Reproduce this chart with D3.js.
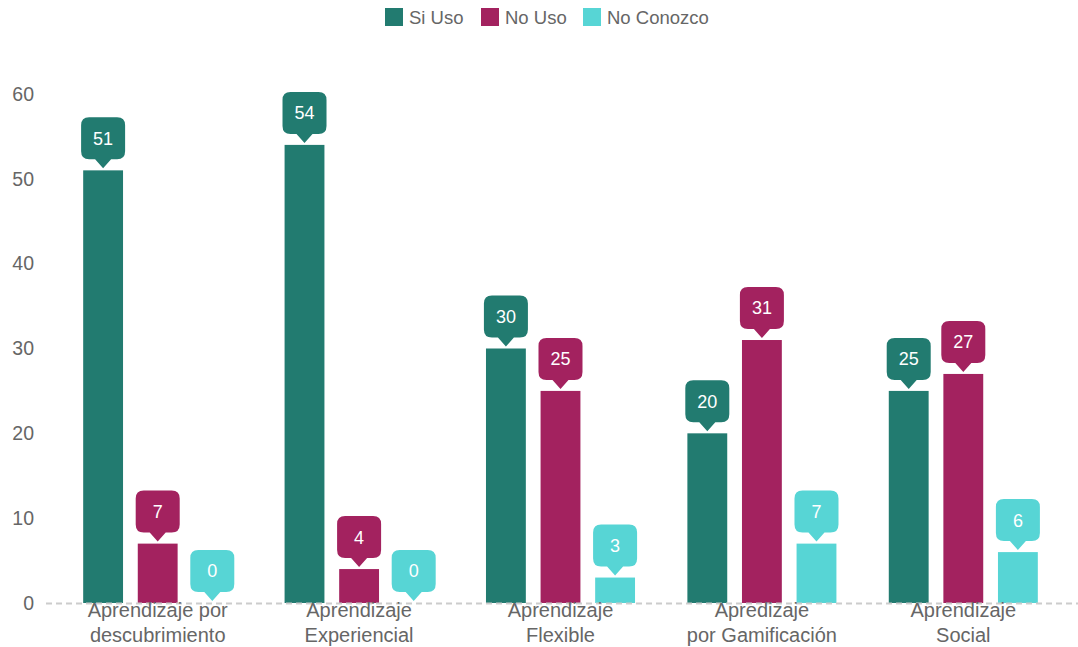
<!DOCTYPE html>
<html>
<head>
<meta charset="utf-8">
<script src="https://cdn.jsdelivr.net/npm/d3@7"></script>
<style>
  html, body { margin: 0; padding: 0; background: #fff; }
  svg { display: block; font-family: "Liberation Sans", Arial, sans-serif; }
</style>
</head>
<body>
<svg id="chart" width="1078" height="647"></svg>
<script>
// Categories (x-axis labels, split on two lines)
const categories = [
  ["Aprendizaje por", "descubrimiento"],
  ["Aprendizaje", "Experiencial"],
  ["Aprendizaje", "Flexible"],
  ["Apredizaje", "por Gamificación"],
  ["Aprendizaje", "Social"]
];
const seriesNames = ["Si Uso", "No Uso", "No Conozco"];
const siUso = [51, 54, 30, 20, 25];
const noUso = [7, 4, 25, 31, 27];
const noConozco = [0, 0, 3, 7, 6];
const yTicks = [0, 10, 20, 30, 40, 50, 60];
const colors = ["#227b70", "#a3225f", "#57d5d5"];

const seriesValues = [siUso, noUso, noConozco];

const svg = d3.select("#chart");
const margin = { left: 57, right: 14 };
const W = 1078;

const x0 = d3.scaleBand()
  .domain(d3.range(categories.length))
  .range([margin.left, W - margin.right])
  .paddingInner(0.26)
  .paddingOuter(0.13);

const x1 = d3.scaleBand()
  .domain(d3.range(seriesNames.length))
  .range([0, x0.bandwidth()])
  .paddingInner(0.27);

const y = d3.scaleLinear().domain([0, 60]).range([603, 94]);

// y-axis tick labels
const yAxis = d3.axisLeft(y).tickValues(yTicks).tickSize(0).tickPadding(0);
const gy = svg.append("g").attr("transform", "translate(34,0)").call(yAxis);
gy.select(".domain").remove();
gy.selectAll("text")
  .attr("fill", "#666")
  .attr("font-size", 19.5)
  .attr("font-family", "Liberation Sans, Arial, sans-serif");

// bars
const groups = svg.append("g").selectAll("g")
  .data(categories.map((c, i) => i))
  .join("g")
  .attr("transform", i => `translate(${x0(i)},0)`);

groups.selectAll("rect")
  .data(i => seriesValues.map((vals, s) => ({ s, v: vals[i] })))
  .join("rect")
  .attr("x", d => x1(d.s))
  .attr("width", x1.bandwidth())
  .attr("y", d => y(d.v))
  .attr("height", d => y(0) - y(d.v))
  .attr("fill", d => colors[d.s]);

// baseline (dashed)
svg.append("line")
  .attr("x1", 46).attr("x2", W)
  .attr("y1", y(0) + 0.5).attr("y2", y(0) + 0.5)
  .attr("stroke", "#ccc")
  .attr("stroke-width", 2)
  .attr("stroke-dasharray", "6,4");

// callout value labels
const bw = 44, bh = 42, r = 8, ph = 9, pw = 16, gap = 2;
function calloutPath(cx, tipY) {
  const bottom = tipY - ph;
  const top = bottom - bh;
  const l = cx - bw / 2, rr = cx + bw / 2;
  return `M${l + r},${top} H${rr - r} Q${rr},${top} ${rr},${top + r}` +
    ` V${bottom - r} Q${rr},${bottom} ${rr - r},${bottom}` +
    ` H${cx + pw / 2} L${cx},${tipY} L${cx - pw / 2},${bottom}` +
    ` H${l + r} Q${l},${bottom} ${l},${bottom - r}` +
    ` V${top + r} Q${l},${top} ${l + r},${top} Z`;
}

const labels = groups.selectAll("g.lbl")
  .data(i => seriesValues.map((vals, s) => ({ s, v: vals[i] })))
  .join("g")
  .attr("class", "lbl");

labels.append("path")
  .attr("d", d => calloutPath(x1(d.s) + x1.bandwidth() / 2, y(d.v) - gap))
  .attr("fill", d => colors[d.s]);

labels.append("text")
  .attr("x", d => x1(d.s) + x1.bandwidth() / 2)
  .attr("y", d => y(d.v) - gap - ph - bh / 2)
  .attr("dy", "0.36em")
  .attr("text-anchor", "middle")
  .attr("fill", "#fff")
  .attr("font-size", 18)
  .text(d => d.v);

// x-axis category labels
const xl = svg.append("g").selectAll("text")
  .data(categories)
  .join("text")
  .attr("x", (c, i) => x0(i) + x0.bandwidth() / 2)
  .attr("y", 617)
  .attr("text-anchor", "middle")
  .attr("fill", "#666")
  .attr("font-size", 20);
xl.selectAll("tspan")
  .data(c => c)
  .join("tspan")
  .attr("x", function () { return d3.select(this.parentNode).attr("x"); })
  .attr("dy", (d, j) => j === 0 ? 0 : 25)
  .text(d => d);

// legend
const legendX = [385, 481, 583];
const lg = svg.append("g").selectAll("g")
  .data(seriesNames)
  .join("g")
  .attr("transform", (d, i) => `translate(${legendX[i]},8)`);
lg.append("rect")
  .attr("width", 18).attr("height", 18)
  .attr("fill", (d, i) => colors[i]);
lg.append("text")
  .attr("x", 24).attr("y", 16)
  .attr("fill", "#666")
  .attr("font-size", 18.5)
  .text(d => d);
</script>
</body>
</html>
